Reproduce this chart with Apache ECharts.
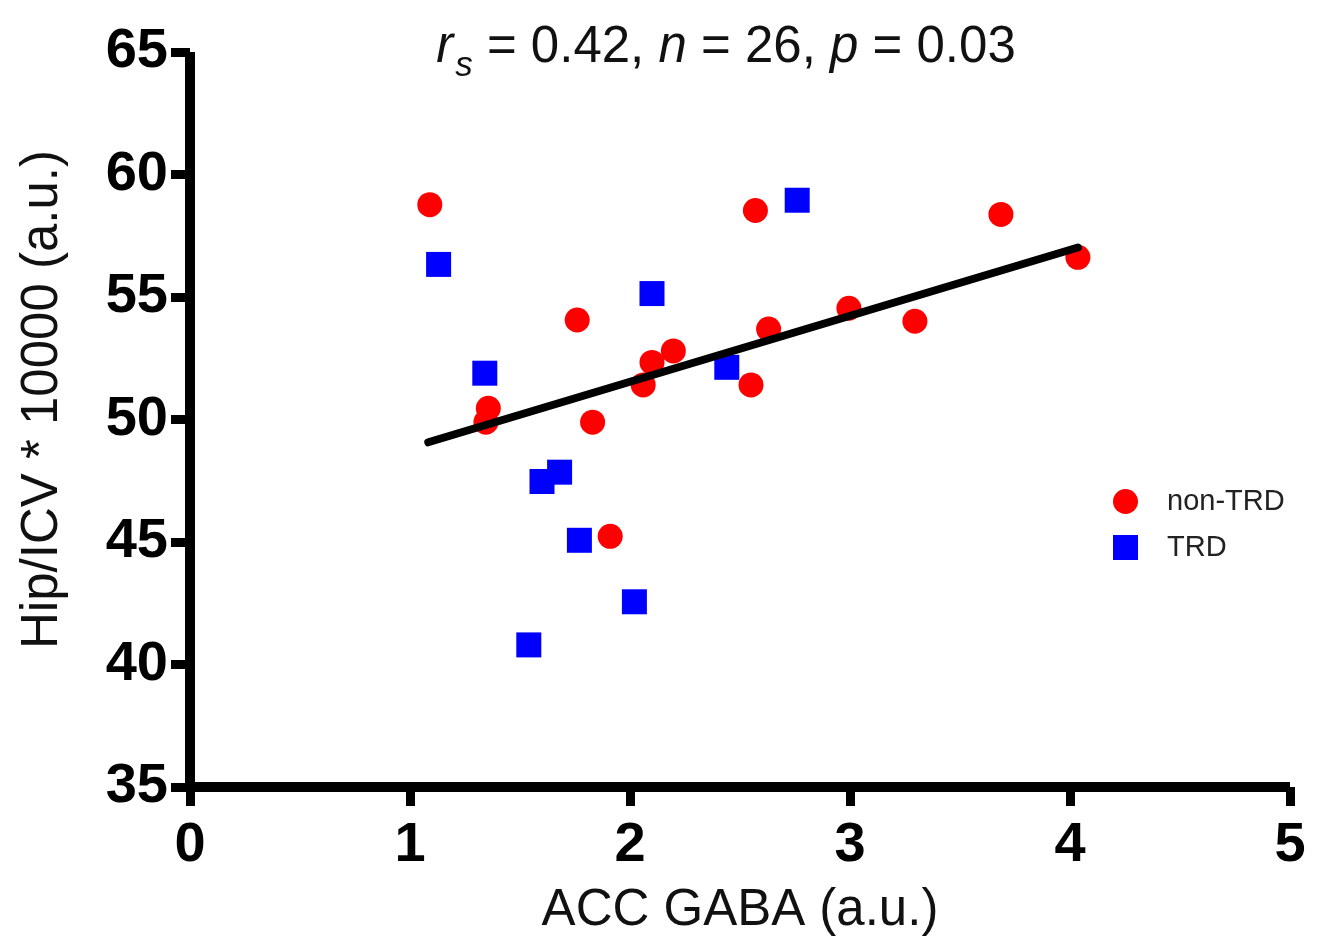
<!DOCTYPE html>
<html>
<head>
<meta charset="utf-8">
<title>ACC GABA vs Hip/ICV</title>
<script src="https://cdn.jsdelivr.net/npm/echarts@6/dist/echarts.min.js"></script>
<style>
  html, body { margin: 0; padding: 0; background: #ffffff; }
  #chart { width: 1321px; height: 941px; }
</style>
</head>
<body>
<div id="chart"></div>
<script>
// ACC GABA (a.u.) vs hippocampal volume / ICV * 10000 (a.u.)
const nonTRD = [
  [1.09, 58.77], [2.57, 58.53], [1.76, 54.06], [1.356, 50.46],
  [1.345, 49.89], [1.83, 49.89], [2.06, 51.41], [2.10, 52.33],
  [2.197, 52.80], [2.55, 51.41], [2.63, 53.69], [1.91, 45.23],
  [2.995, 54.54], [3.295, 54.01], [3.686, 58.37], [4.036, 56.62]
];
const TRD = [
  [1.13, 56.33], [2.76, 58.95], [2.10, 55.14], [1.34, 51.89],
  [2.44, 52.13], [1.68, 47.85], [1.60, 47.47], [1.77, 45.07],
  [2.02, 42.56], [1.54, 40.80]
];
// Fitted line end points
const fitLine = [[1.083, 49.07], [4.036, 57.02]];

const xTicks = { min: 0, max: 5, interval: 1 };
const yTicks = { min: 35, max: 65, interval: 5 };

const FONT = '"Liberation Sans", Arial, Helvetica, sans-serif';

const chart = echarts.init(document.getElementById('chart'), null, { renderer: 'canvas' });

const axisCommon = {
  type: 'value',
  splitLine: { show: false },
  axisLine: { show: true, lineStyle: { color: '#000', width: 10, cap: 'butt' } },
  axisTick: { show: true, length: 19, lineStyle: { color: '#000', width: 9 } },
  axisLabel: { color: '#000', fontFamily: FONT, fontWeight: 'bold', fontSize: 56 },
  nameTextStyle: { color: '#111', fontFamily: FONT, fontSize: 51, fontWeight: 'normal' }
};

const titleBase = { fontFamily: FONT, color: '#111', fontWeight: 'normal' };

chart.setOption({
  backgroundColor: '#ffffff',
  animation: false,
  title: {
    left: 721,
    top: 6,
    textAlign: 'center',
    text: '{r|r}{s|s}{t| = 0.42, }{i|n}{t| = 26, }{i|p}{t| = 0.03}',
    textStyle: {
      fontWeight: 'normal',
      rich: {
        r: Object.assign({}, titleBase, { fontSize: 51, fontStyle: 'italic' }),
        s: Object.assign({}, titleBase, { fontSize: 35, fontStyle: 'italic', padding: [38, 0, 0, 2] }),
        t: Object.assign({}, titleBase, { fontSize: 51 }),
        i: Object.assign({}, titleBase, { fontSize: 51, fontStyle: 'italic' })
      }
    }
  },
  legend: {
    orient: 'vertical',
    left: 1108,
    top: 482,
    itemWidth: 25,
    itemHeight: 25,
    itemGap: 17,
    textStyle: { fontFamily: FONT, fontSize: 29, color: '#222', padding: [0, 0, 0, 24], lineHeight: 25 },
    data: [
      { name: 'non-TRD', icon: 'circle' },
      { name: 'TRD', icon: 'rect' }
    ]
  },
  grid: { left: 190, right: 31, top: 52, bottom: 152, containLabel: false },
  xAxis: Object.assign({}, axisCommon, {
    min: xTicks.min, max: xTicks.max, interval: xTicks.interval,
    name: 'ACC GABA (a.u.)',
    nameLocation: 'middle',
    nameGap: 98,
    axisLabel: Object.assign({}, axisCommon.axisLabel, { margin: 31 })
  }),
  yAxis: Object.assign({}, axisCommon, {
    min: yTicks.min, max: yTicks.max, interval: yTicks.interval,
    name: 'Hip/ICV * 10000 (a.u.)',
    nameLocation: 'middle',
    nameGap: 122,
    nameTextStyle: Object.assign({}, axisCommon.nameTextStyle, { padding: [0, 0, 0, 40] }),
    axisLabel: Object.assign({}, axisCommon.axisLabel, { margin: 22 })
  }),
  series: [
    {
      name: 'non-TRD',
      type: 'scatter',
      symbol: 'circle',
      symbolSize: 25,
      itemStyle: { color: '#ff0000', opacity: 1 },
      data: nonTRD,
      z: 2
    },
    {
      name: 'TRD',
      type: 'scatter',
      symbol: 'rect',
      symbolSize: 25,
      itemStyle: { color: '#0000ff', opacity: 1 },
      data: TRD,
      z: 3
    },
    {
      name: 'fit',
      type: 'line',
      data: fitLine,
      symbol: 'none',
      lineStyle: { color: '#000', width: 8, cap: 'round' },
      z: 4,
      silent: true
    }
  ]
});
</script>
</body>
</html>
